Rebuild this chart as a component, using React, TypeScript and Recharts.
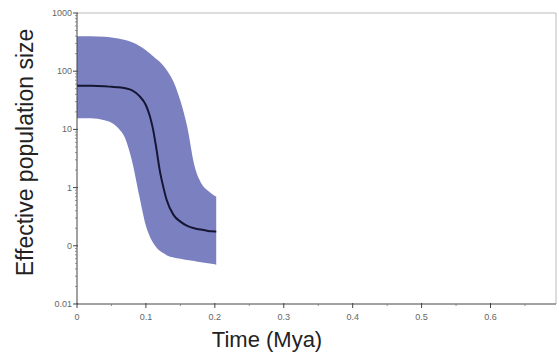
import React from 'react';
import {
  ComposedChart,
  Area,
  Line,
  XAxis,
  YAxis,
  ReferenceLine,
  Label,
} from 'recharts';

// time before present (Mya)
const times = [0, 0.02, 0.04, 0.05, 0.06, 0.07, 0.08, 0.09, 0.1, 0.105, 0.11, 0.115, 0.12, 0.125, 0.13, 0.14, 0.15, 0.16, 0.17, 0.18, 0.19, 0.2, 0.202];
// 95% HPD upper / lower and median of effective population size
const upper = [400, 398, 390, 380, 365, 345, 315, 275, 230, 205, 182, 162, 145, 125, 105, 66, 31, 11, 2.5, 1.2, 0.88, 0.72, 0.7];
const median = [56, 56, 55, 54, 53, 51, 47, 38, 26, 18, 10.5, 4.8, 2, 1.05, 0.62, 0.34, 0.26, 0.22, 0.2, 0.19, 0.18, 0.176, 0.175];
const lower = [15.5, 15.5, 14.3, 13, 10.5, 7, 2.8, 0.75, 0.22, 0.15, 0.115, 0.094, 0.082, 0.075, 0.069, 0.063, 0.06, 0.057, 0.055, 0.052, 0.05, 0.048, 0.047];

const yMajor = [0.01, 0.1, 1, 10, 100, 1000];
const yTickLabels = ['0.01', '0', '1', '10', '100', '1000'];
const xTicks = [0, 0.05, 0.1, 0.15, 0.2, 0.25, 0.3, 0.35, 0.4, 0.45, 0.5, 0.55, 0.6, 0.65];
const xMajor = [0, 0.1, 0.2, 0.3, 0.4, 0.5, 0.6];
const xTickLabels = ['0', '0.1', '0.2', '0.3', '0.4', '0.5', '0.6'];

const X_MAX = 0.695;

const data = times.map((t, i) => ({ t, band: [lower[i], upper[i]], median: median[i] }));

// minor log ticks 2..9 in each decade
const yTicks: number[] = [];
yMajor.forEach((m, i) => {
  yTicks.push(m);
  if (i < yMajor.length - 1) {
    for (let k = 2; k <= 9; k++) yTicks.push(m * k);
  }
});

const FONT = '"Liberation Sans", Arial, sans-serif';
const AXIS = '#444';

function YTick(props: any) {
  const { x, y, payload } = props;
  const idx = yMajor.indexOf(payload.value);
  if (idx < 0) {
    return <line x1={x - 2} x2={x} y1={y} y2={y} stroke="#777" strokeWidth={0.8} />;
  }
  return (
    <g>
      <line x1={x - 4} x2={x + 1} y1={y} y2={y} stroke={AXIS} />
      <text x={x - 5} y={y} dy={3} textAnchor="end" fontSize={9} fill="#666" fontFamily={FONT}>
        {yTickLabels[idx]}
      </text>
    </g>
  );
}

function XTick(props: any) {
  const { x, y, payload } = props;
  const idx = xMajor.indexOf(payload.value);
  if (idx < 0) {
    return <line x1={x} x2={x} y1={y} y2={y + 2} stroke="#777" strokeWidth={0.8} />;
  }
  return (
    <g>
      <line x1={x} x2={x} y1={y - 1} y2={y + 4} stroke={AXIS} />
      <text x={x} y={y} dy={16} textAnchor="middle" fontSize={9} fill="#666" fontFamily={FONT}>
        {xTickLabels[idx]}
      </text>
    </g>
  );
}

export default function App() {
  return (
    <div style={{ position: 'absolute', left: 0, top: 0, background: '#fff' }}>
      <ComposedChart width={559} height={356} data={data} margin={{ top: 13, right: 3, bottom: 0, left: 0 }}>
        <XAxis
          type="number"
          dataKey="t"
          domain={[0, X_MAX]}
          ticks={xTicks}
          interval={0}
          tickSize={0}
          tickMargin={0}
          tick={<XTick />}
          height={52}
          stroke={AXIS}
        >
          <Label
            content={(p: any) => (
              <text
                x={p.viewBox.x + 190}
                y={p.viewBox.y + 43}
                textAnchor="middle"
                fontSize={22}
                fill="#222"
                fontFamily={FONT}
              >
                Time (Mya)
              </text>
            )}
          />
        </XAxis>
        <YAxis
          scale="log"
          domain={[0.01, 1000]}
          ticks={yTicks}
          interval={0}
          tickSize={0}
          tickMargin={0}
          tick={<YTick />}
          width={77}
          stroke={AXIS}
          allowDataOverflow
        >
          <Label
            content={(p: any) => {
              const cy = p.viewBox.y + p.viewBox.height / 2 - 6;
              return (
                <text
                  x={33}
                  y={cy}
                  transform={`rotate(-90, 33, ${cy})`}
                  textAnchor="middle"
                  fontSize={23}
                  fill="#222"
                  fontFamily={FONT}
                >
                  Effective population size
                </text>
              );
            }}
          />
        </YAxis>
        <ReferenceLine y={1000} stroke="#bbb" />
        <ReferenceLine x={X_MAX} stroke="#bbb" />
        <Area
          type="monotone"
          dataKey="band"
          fill="#7b80c1"
          fillOpacity={1}
          stroke="none"
          isAnimationActive={false}
        />
        <Line
          type="monotone"
          dataKey="median"
          stroke="#141632"
          strokeWidth={2}
          dot={false}
          isAnimationActive={false}
        />
      </ComposedChart>
    </div>
  );
}
